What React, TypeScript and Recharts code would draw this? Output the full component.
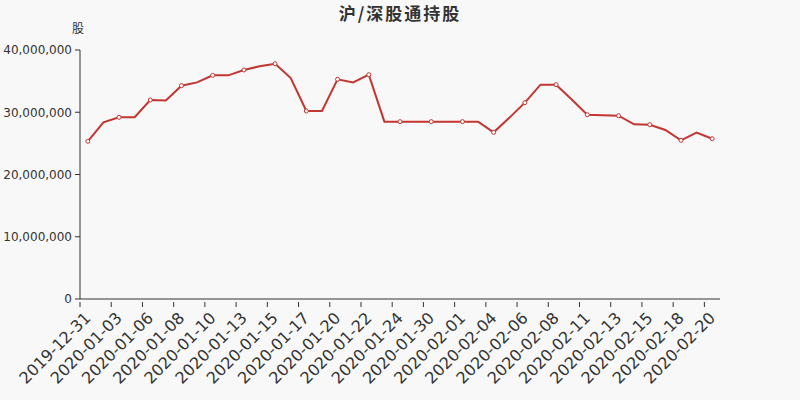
import React from 'react';
import { LineChart, Line, XAxis, YAxis } from 'recharts';

const dates = [
  '2019-12-31', '2020-01-02', '2020-01-03', '2020-01-05', '2020-01-06', '2020-01-07',
  '2020-01-08', '2020-01-09', '2020-01-10', '2020-01-12', '2020-01-13', '2020-01-14',
  '2020-01-15', '2020-01-16', '2020-01-17', '2020-01-19', '2020-01-20', '2020-01-21',
  '2020-01-22', '2020-01-23', '2020-01-24', '2020-01-29', '2020-01-30', '2020-01-31',
  '2020-02-01', '2020-02-03', '2020-02-04', '2020-02-05', '2020-02-06', '2020-02-07',
  '2020-02-08', '2020-02-10', '2020-02-11', '2020-02-12', '2020-02-13', '2020-02-14',
  '2020-02-15', '2020-02-17', '2020-02-18', '2020-02-19', '2020-02-20',
];

const holdings = [
  25330000, 28380000, 29190000, 29190000, 31970000, 31900000,
  34270000, 34800000, 35930000, 35930000, 36790000, 37380000,
  37800000, 35500000, 30200000, 30200000, 35290000, 34800000,
  36030000, 28490000, 28490000, 28490000, 28490000, 28490000,
  28490000, 28490000, 26770000, 29100000, 31540000, 34430000,
  34430000, 32050000, 29600000, 29500000, 29450000, 28060000,
  28000000, 27150000, 25490000, 26720000, 25750000,
];

const yTicks = [0, 10000000, 20000000, 30000000, 40000000];

const data = dates.map((d, i) => ({ date: d, value: holdings[i] }));

const FONT = '"DejaVu Sans", sans-serif';
const BAND = 640 / dates.length;

const DateTick = (props: any) => {
  const { x, y, payload, index } = props;
  if (index % 2 !== 0) return <g />;
  const ly = y + 8;
  return (
    <g>
      <line x1={x - BAND / 2} y1={y - 5} x2={x - BAND / 2} y2={y} stroke="#333" />
      <text
        x={x}
        y={ly}
        dy="0.35em"
        textAnchor="end"
        fontSize={16}
        fill="#333"
        fontFamily={FONT}
        transform={`rotate(-45, ${x}, ${ly})`}
      >
        {payload.value}
      </text>
    </g>
  );
};

const Dot = (props: any) => {
  const { cx, cy, index } = props;
  if (index % 2 !== 0) return <g key={index} />;
  return <circle key={index} cx={cx} cy={cy} r={2} fill="#fff" stroke="#c23531" strokeWidth={1} />;
};

export default function App() {
  return (
    <div style={{ position: 'absolute', left: 0, top: 0, width: 800, height: 400, background: '#f8f8f8' }}>
      <LineChart
        width={800}
        height={400}
        data={data}
        margin={{ top: 50, right: 80, left: 0, bottom: 0 }}
        style={{ fontFamily: FONT }}
      >
        <text x={400} y={20} textAnchor="middle" fontSize={17} fontWeight="bold" fill="#333"
          fontFamily='"Noto Sans CJK SC", sans-serif' letterSpacing={2}>
          沪/深股通持股
        </text>
        <text x={78} y={33} textAnchor="middle" fontSize={12} fill="#333" fontFamily='"Noto Sans CJK SC", sans-serif'>
          股
        </text>
        <XAxis
          dataKey="date"
          interval={0}
          height={101}
          padding={{ left: BAND / 2, right: BAND / 2 }}
          tick={<DateTick />}
          tickLine={false}
          axisLine={{ stroke: '#333' }}
        />
        <YAxis
          width={80}
          domain={[0, 40000000]}
          ticks={yTicks}
          tickFormatter={(v: number) => v.toLocaleString('en-US')}
          tick={{ fontSize: 12, fill: '#333' }}
          tickSize={5}
          tickMargin={3}
          axisLine={{ stroke: '#333' }}
          tickLine={{ stroke: '#333' }}
        />
        <Line
          type="linear"
          dataKey="value"
          stroke="#c23531"
          strokeWidth={2}
          dot={<Dot />}
          isAnimationActive={false}
        />
      </LineChart>
    </div>
  );
}
